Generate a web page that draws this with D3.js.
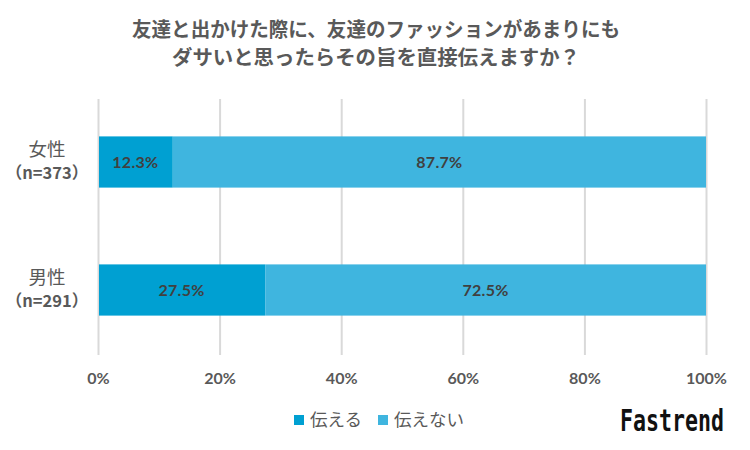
<!DOCTYPE html>
<html>
<head>
<meta charset="utf-8">
<script src="https://cdn.jsdelivr.net/npm/d3@7"></script>
<style>
  html, body { margin: 0; padding: 0; background: #fff; }
  text { font-family: "Noto Sans CJK JP", sans-serif; }
  .num { font-family: Lato, "Open Sans", sans-serif; font-weight: 700; }
</style>
</head>
<body>
<div id="chart"></div>
<script>
const titleLines = ["友達と出かけた際に、友達のファッションがあまりにも", "ダサいと思ったらその旨を直接伝えますか？"]
const genders = ["女性", "男性"]
const counts = ["（n=373）", "（n=291）"]
const seriesNames = ["伝える", "伝えない"]
const tellValues = [12.3, 27.5]
const dontTellValues = [87.7, 72.5]
const xTicks = [0, 20, 40, 60, 80, 100]
const colors = ["#00a0d2", "#3fb5df"]

const WIDTH = 750
const HEIGHT = 450
const MARGIN = { TOP: 99, BOTTOM: 95, LEFT: 98, RIGHT: 44 }

const svg = d3.select("#chart")
  .append("svg")
  .attr("width", WIDTH)
  .attr("height", HEIGHT)

const x = d3.scaleLinear()
  .domain([0, 100])
  .range([MARGIN.LEFT, WIDTH - MARGIN.RIGHT])

const y = d3.scaleBand()
  .domain(genders)
  .range([MARGIN.TOP - 1, HEIGHT - MARGIN.BOTTOM - 1])
  .paddingInner(0.6)
  .paddingOuter(0.3)

// title
const titleWidths = [488, 408]
svg.selectAll(".title")
  .data(titleLines)
  .enter()
  .append("text")
  .attr("class", "title")
  .attr("x", 376)
  .attr("y", (d, i) => 37 + i * 28)
  .attr("text-anchor", "middle")
  .attr("font-size", 20)
  .attr("font-weight", 700)
  .attr("fill", "#595959")
  .attr("textLength", (d, i) => titleWidths[i])
  .attr("lengthAdjust", "spacingAndGlyphs")
  .text(d => d)

// grid + x axis
const xAxis = d3.axisBottom(x)
  .tickValues(xTicks)
  .tickFormat(d => d + "%")
  .tickSize(HEIGHT - MARGIN.TOP - MARGIN.BOTTOM)

const xAxisGroup = svg.append("g")
  .attr("transform", `translate(0, ${MARGIN.TOP})`)
  .call(xAxis)

xAxisGroup.select(".domain").remove()
xAxisGroup.selectAll("line")
  .attr("stroke", "#d9d9d9")
  .attr("stroke-width", 2)
xAxisGroup.selectAll("text")
  .attr("class", "num")
  .attr("y", HEIGHT - MARGIN.TOP - MARGIN.BOTTOM + 29)
  .attr("dy", 0)
  .attr("font-size", 16)
  .attr("fill", "#595959")
  .style("font-family", "Lato, sans-serif")

// stacked bars
const rows = genders.map((g, i) => ({ gender: g, tell: tellValues[i], dont: dontTellValues[i] }))
const stacked = d3.stack().keys(["tell", "dont"])(rows)

const layers = svg.selectAll(".layer")
  .data(stacked)
  .enter()
  .append("g")
  .attr("class", "layer")
  .attr("fill", (d, i) => colors[i])

// the bars start just right of the zero line
const barStart = d => Math.max(x(d[0]), x(0) + 1)

layers.selectAll("rect")
  .data(d => d)
  .enter()
  .append("rect")
  .attr("x", barStart)
  .attr("y", d => y(d.data.gender))
  .attr("width", d => x(d[1]) - barStart(d))
  .attr("height", y.bandwidth())

layers.selectAll("text")
  .data(d => d)
  .enter()
  .append("text")
  .attr("class", "num")
  .attr("x", d => x((d[0] + d[1]) / 2))
  .attr("y", d => y(d.data.gender) + y.bandwidth() / 2 + 6)
  .attr("text-anchor", "middle")
  .attr("font-size", 16)
  .attr("letter-spacing", 0.3)
  .attr("fill", "#404040")
  .text(d => (d[1] - d[0]).toFixed(1) + "%")

// category labels
const labels = svg.selectAll(".cat")
  .data(genders)
  .enter()
  .append("g")
  .attr("class", "cat")

labels.append("text")
  .attr("x", 47)
  .attr("y", d => y(d) + 20)
  .attr("text-anchor", "middle")
  .attr("font-size", 18.5)
  .attr("fill", "#595959")
  .text(d => d)

labels.append("text")
  .attr("x", 47)
  .attr("y", d => y(d) + 43)
  .attr("text-anchor", "middle")
  .attr("font-size", 16.5)
  .attr("font-weight", 700)
  .attr("fill", "#595959")
  .text((d, i) => counts[i])

// legend
const legendX = [294, 378]
seriesNames.forEach((name, i) => {
  svg.append("rect")
    .attr("x", legendX[i])
    .attr("y", 415)
    .attr("width", 10)
    .attr("height", 10)
    .attr("fill", colors[i])
  svg.append("text")
    .attr("x", legendX[i] + 16)
    .attr("y", 426)
    .attr("font-size", 17.5)
    .attr("fill", "#595959")
    .text(name)
})

// logo, squeezed sideways
svg.append("text")
  .attr("transform", "translate(620, 431) scale(0.72, 1)")
  .attr("font-size", 30)
  .attr("font-weight", 700)
  .attr("fill", "#111")
  .style("font-family", '"DejaVu Sans Mono", monospace')
  .text("Fastrend")
</script>
</body>
</html>
